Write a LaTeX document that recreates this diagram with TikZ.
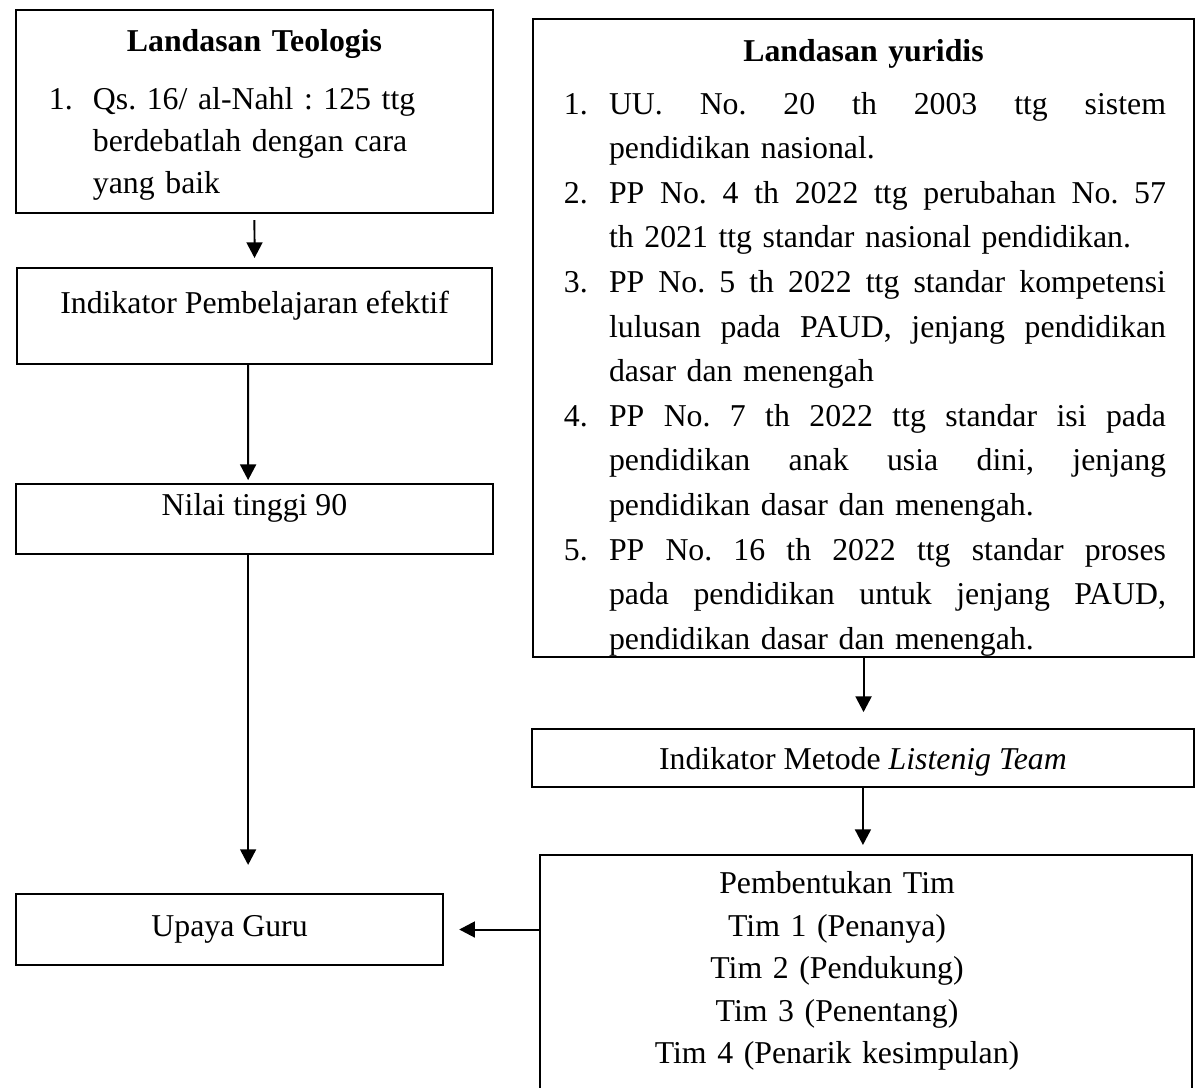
\documentclass[tikz,border=0pt]{standalone}
\usepackage{fontspec}
\setmainfont{Liberation Serif}
\usepackage{tikz}
\usetikzlibrary{arrows.meta}

\frenchspacing
\newcommand{\butir}[1]{\hspace*{1.1pt}\makebox[17pt][l]{#1}}
\newcommand{\lanjut}[1]{\hspace*{18.1pt}\makebox[210.2pt][l]{#1}}
\newcommand{\rata}[1]{{\spaceskip=.25em plus 1fil\relax\makebox[210.2pt][s]{#1}}}
\newcommand{\baris}[1]{\makebox[224.2pt]{#1}}

\begin{document}
\begin{tikzpicture}[x=0.3774pt,y=-0.3774pt,
    box/.style={draw,line width=0.75pt,anchor=north west,inner ysep=0pt,inner xsep=0pt,
        font=\fontsize{12pt}{16pt}\selectfont},
    arr/.style={-{Triangle[length=5.9pt,width=6pt]},line width=0.75pt}]
    \useasboundingbox (0,0) rectangle (1199,1087);
    \clip (0,0) rectangle (1199,1087);
    \node[box,inner xsep=12.45pt,text width=155.1pt,text height=15.5pt,text depth=61.1pt]
        (teologis) at (15,9) {\makebox[\linewidth]{\bfseries Landasan Teologis}\\[5.9pt]
        \makebox[16.6pt][l]{1.}Qs. 16/ al-Nahl : 125 ttg\\
        \hspace*{16.6pt}berdebatlah dengan cara\\
        \hspace*{16.6pt}yang baik};
    \node[box,minimum width=179.3pt,text height=17pt,text depth=19.2pt]
        (efektif) at (16,267) {Indikator Pembelajaran efektif};
    \node[box,minimum width=180pt,text height=11.7pt,text depth=14.7pt]
        (nilai) at (15,483) {Nilai tinggi 90};
    \node[box,minimum width=161.2pt,text height=15.9pt,text depth=10.9pt]
        (upaya) at (15,893) {Upaya Guru};
    \node[box,inner xsep=10.6pt,text width=228.3pt,text height=15.9pt,text depth=224.9pt,
        font=\fontsize{12pt}{16.83pt}\selectfont]
        (yuridis) at (532,18) {\makebox[\linewidth]{\bfseries Landasan yuridis}\\[3.2pt]
        \butir{1.}\rata{UU. No. 20 th 2003 ttg sistem}\\
        \lanjut{pendidikan nasional.}\\
        \butir{2.}\rata{PP No. 4 th 2022 ttg perubahan No. 57}\\
        \lanjut{th 2021 ttg standar nasional pendidikan.}\\
        \butir{3.}\rata{PP No. 5 th 2022 ttg standar kompetensi}\\
        \hspace*{18.1pt}\rata{lulusan pada PAUD, jenjang pendidikan}\\
        \lanjut{dasar dan menengah}\\
        \butir{4.}\rata{PP No. 7 th 2022 ttg standar isi pada}\\
        \hspace*{18.1pt}\rata{pendidikan anak usia dini, jenjang}\\
        \lanjut{pendidikan dasar dan menengah.}\\
        \butir{5.}\rata{PP No. 16 th 2022 ttg standar proses}\\
        \hspace*{18.1pt}\rata{pada pendidikan untuk jenjang PAUD,}\\
        \lanjut{pendidikan dasar dan menengah.}};
    \node[box,minimum width=249.8pt,text height=15.1pt,text depth=6.8pt]
        (metode) at (531,728) {Indikator Metode \textit{Listenig Team}};
    \node[box,text width=246.1pt,text height=14.7pt,text depth=78.1pt]
        (pembentukan) at (539,854) {\baris{Pembentukan Tim}\\
        \baris{Tim 1 (Penanya)}\\
        \baris{Tim 2 (Pendukung)}\\
        \baris{Tim 3 (Penentang)}\\
        \baris{Tim 4 (Penarik kesimpulan)}};
    \draw[arr,shorten <=2.3pt,shorten >=3.4pt] (teologis.south) -- (efektif.north);
    \draw[arr,shorten >=1.1pt] ([xshift=-2.4pt]efektif.south) -- ([xshift=-2.4pt]nilai.north);
    \draw[arr,shorten >=10.6pt] ([xshift=-2.4pt]nilai.south) -- ([xshift=-2.4pt]nilai.south |- upaya.north);
    \draw[arr,shorten >=6pt] (yuridis.south) -- (yuridis.south |- metode.north);
    \draw[arr,shorten >=3.4pt] (metode.south) -- (metode.south |- pembentukan.north);
    \draw[arr,shorten >=5.7pt] (pembentukan.west |- upaya.east) -- (upaya.east);
\end{tikzpicture}
\end{document}
